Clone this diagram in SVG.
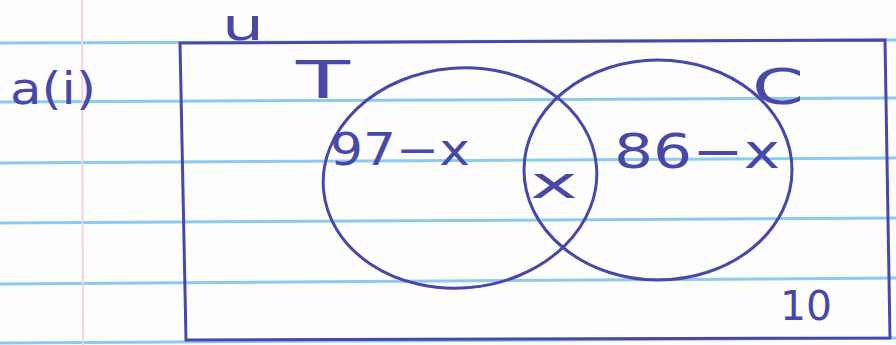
<svg xmlns="http://www.w3.org/2000/svg" width="896" height="345" viewBox="0 0 896 345">
<style>
.rule{stroke:#8ec9ef;stroke-width:3;fill:none}
.ink{stroke:#4848a8;stroke-width:3;fill:none;stroke-linecap:round}
.t{font-family:"DejaVu Sans",sans-serif;fill:#4848a8}
</style>
<rect width="896" height="345" fill="#fdfdfd"/>
<g id="paper">
<line class="rule" x1="0" y1="43" x2="896" y2="40"/>
<line class="rule" x1="0" y1="102" x2="896" y2="98"/>
<line class="rule" x1="0" y1="163" x2="896" y2="158"/>
<line class="rule" x1="0" y1="223" x2="896" y2="218"/>
<line class="rule" x1="0" y1="284" x2="896" y2="278"/>
<line class="rule" x1="0" y1="343" x2="896" y2="338"/>
<line x1="82" y1="0" x2="83" y2="345" stroke="#f3d6dc" stroke-width="2"/>
</g>
<g id="universe">
<path class="ink" d="M180 43 L885 40 L890 338 L186 340 Z"/>
<text class="t" x="222" y="40" font-size="44" textLength="42" lengthAdjust="spacingAndGlyphs">u</text>
</g>
<g id="label">
<text class="t" x="10" y="104" font-size="44" textLength="86" lengthAdjust="spacingAndGlyphs">a(i)</text>
</g>
<g id="setT">
<ellipse class="ink" cx="460" cy="178" rx="137" ry="110" transform="rotate(-5 460 178)"/>
<text class="t" x="296" y="98" font-size="52" textLength="54" lengthAdjust="spacingAndGlyphs">T</text>
</g>
<g id="setC">
<ellipse class="ink" cx="658" cy="170" rx="134" ry="110"/>
<text class="t" x="752" y="104" font-size="50" textLength="52" lengthAdjust="spacingAndGlyphs">C</text>
</g>
<g id="regions">
<text class="t" x="330" y="165" font-size="44" textLength="140" lengthAdjust="spacingAndGlyphs">97−x</text>
<text class="t" x="530" y="198" font-size="44" textLength="48" lengthAdjust="spacingAndGlyphs">x</text>
<text class="t" x="614" y="168" font-size="48" textLength="166" lengthAdjust="spacingAndGlyphs">86−x</text>
<text class="t" x="780" y="320" font-size="40" textLength="52" lengthAdjust="spacingAndGlyphs">10</text>
</g>
</svg>
